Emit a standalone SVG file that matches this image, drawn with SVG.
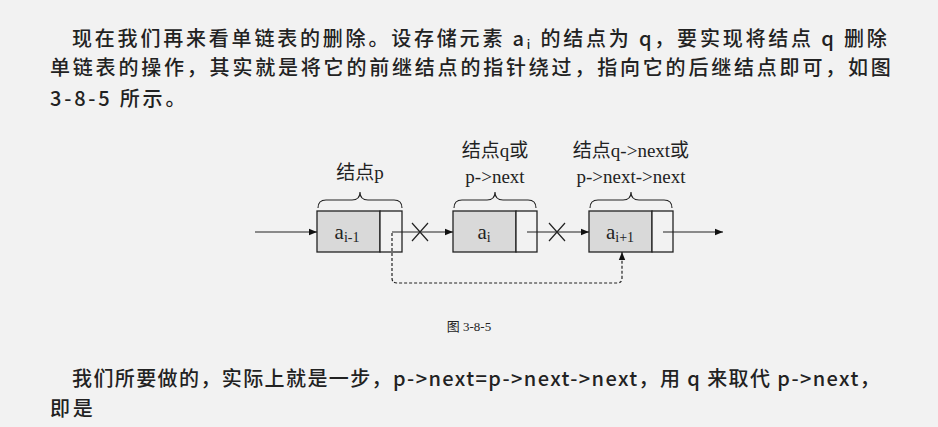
<svg xmlns="http://www.w3.org/2000/svg" width="938" height="427" viewBox="0 0 938 427">
<defs>
<marker id="ah" viewBox="0 0 10 10" refX="10" refY="5" markerWidth="8" markerHeight="8" orient="auto" markerUnits="userSpaceOnUse"><path d="M0,1 L10,5 L0,9 z" fill="#111"/></marker>
<style>
.t{font-family:"Noto Sans CJK SC","Liberation Serif",serif;font-size:20px;letter-spacing:2.8px;fill:#222;font-weight:500}
.l{font-family:"Liberation Serif","Noto Sans CJK SC",serif;font-size:19px;fill:#222;text-anchor:middle}
.v{font-family:"Liberation Serif",serif;font-size:21px;fill:#222;text-anchor:middle}
.c{font-family:"Liberation Serif","Noto Sans CJK SC",serif;font-size:13px;fill:#222;text-anchor:middle}
.box{fill:#d9d9d9;stroke:#222;stroke-width:1.3}
.ptr{fill:#f2f2f2;stroke:#222;stroke-width:1.3}
.ln{stroke:#222;stroke-width:1.2;fill:none}
.br{stroke:#222;stroke-width:1.1;fill:none}
</style>
</defs>
<rect width="938" height="427" fill="#f2f2f2"/>
<text class="t" x="72" y="46">现在我们再来看单链表的删除。设存储元素 a<tspan style="font-size:12px" dy="3">i</tspan><tspan dy="-3"> 的结点为 q，要实现将结点 q 删除</tspan></text>
<text class="t" x="50" y="75">单链表的操作，其实就是将它的前继结点的指针绕过，指向它的后继结点即可，如图</text>
<text class="t" x="50" y="106">3-8-5 所示。</text>

<g id="node1">
<rect class="box" x="317" y="211" width="63" height="41"/>
<rect class="ptr" x="380" y="211" width="22" height="41"/>
<text class="v" x="347" y="239">a<tspan style="font-size:14px" dy="3">i-1</tspan></text>
<path class="br" d="M318,208 q0,-8 8,-8 h26 q8,0 8,-8 q0,8 8,8 h26 q8,0 8,8"/>
<text class="l" x="360" y="179">结点p</text>
</g>
<g id="node2">
<rect class="box" x="453" y="211" width="63" height="41"/>
<rect class="ptr" x="516" y="211" width="21" height="41"/>
<text class="v" x="484" y="239">a<tspan style="font-size:14px" dy="3">i</tspan></text>
<path class="br" d="M454,208 q0,-8 8,-8 h25 q8,0 8,-8 q0,8 8,8 h25 q8,0 8,8"/>
<text class="l" x="495" y="157">结点q或</text>
<text class="l" x="495" y="183">p-&gt;next</text>
</g>
<g id="node3">
<rect class="box" x="589" y="211" width="63" height="41"/>
<rect class="ptr" x="652" y="211" width="21" height="41"/>
<text class="v" x="620" y="239">a<tspan style="font-size:14px" dy="3">i+1</tspan></text>
<path class="br" d="M590,208 q0,-8 8,-8 h25 q8,0 8,-8 q0,8 8,8 h25 q8,0 8,8"/>
<text class="l" x="631" y="157">结点q-&gt;next或</text>
<text class="l" x="631" y="183">p-&gt;next-&gt;next</text>
</g>

<g id="connectors">
<line class="ln" x1="255" y1="232" x2="317" y2="232" marker-end="url(#ah)"/>
<line class="ln" x1="392" y1="232" x2="453" y2="232" marker-end="url(#ah)"/>
<line class="ln" x1="527" y1="232" x2="589" y2="232" marker-end="url(#ah)"/>
<line class="ln" x1="663" y1="232" x2="723" y2="232" marker-end="url(#ah)"/>
<path class="ln" d="M412,223 L428,241 M412,241 L428,223"/>
<path class="ln" d="M549,223 L565,241 M549,241 L565,223"/>
<path class="ln" stroke-dasharray="3,2" d="M392,233 V278 q0,5 5,5 H617 q5,0 5,-5 V252" marker-end="url(#ah)"/>
</g>

<text class="c" x="469" y="331">图 3-8-5</text>
<text class="t" x="72" y="386" style="letter-spacing:1.4px">我们所要做的，实际上就是一步，p-&gt;next=p-&gt;next-&gt;next，用 q 来取代 p-&gt;next，</text>
<text class="t" x="50" y="416">即是</text>
</svg>
